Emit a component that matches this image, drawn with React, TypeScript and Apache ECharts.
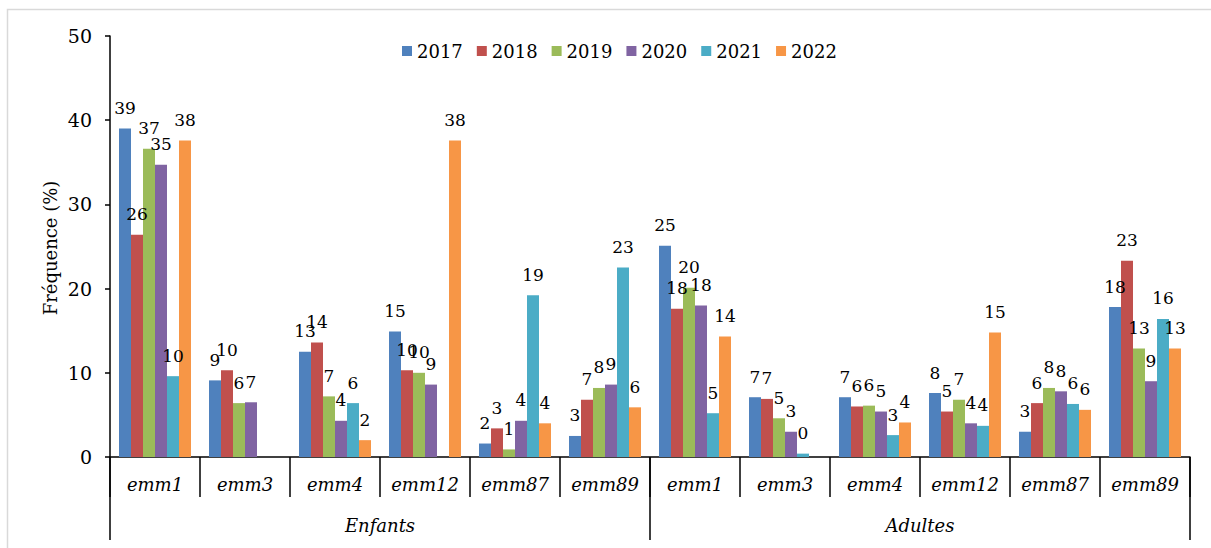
import React, { useEffect, useRef } from "react";
import * as echarts from "echarts";

const groups = ["Enfants", "Adultes"];
const genes = ["emm1", "emm3", "emm4", "emm12", "emm87", "emm89"];
const years = ["2017", "2018", "2019", "2020", "2021", "2022"];
const yTicks = { min: 0, max: 50, interval: 10 };

const y2017 = [39.0, 9.1, 12.5, 14.9, 1.6, 2.5, 25.1, 7.1, 7.1, 7.6, 3.0, 17.8];
const y2018 = [26.4, 10.3, 13.6, 10.3, 3.4, 6.8, 17.6, 6.9, 6.0, 5.4, 6.4, 23.3];
const y2019 = [36.6, 6.4, 7.2, 10.0, 0.9, 8.2, 20.1, 4.6, 6.1, 6.8, 8.2, 12.9];
const y2020 = [34.7, 6.5, 4.3, 8.6, 4.3, 8.6, 18.0, 3.0, 5.4, 4.0, 7.8, 9.0];
const y2021 = [9.6, null, 6.4, null, 19.2, 22.5, 5.2, 0.4, 2.6, 3.7, 6.3, 16.4];
const y2022 = [37.6, null, 2.0, 37.6, 4.0, 5.9, 14.3, null, 4.1, 14.8, 5.6, 12.9];

const seriesValues = [y2017, y2018, y2019, y2020, y2021, y2022];
const colors = ["#4F81BD", "#C0504D", "#9BBB59", "#8064A2", "#4BACC6", "#F79646"];

const FONT = "DejaVu Serif";

export default function App() {
  const ref = useRef<HTMLDivElement>(null);
  useEffect(() => {
    if (!ref.current) return;
    document.body.style.margin = "0";
    const chart = echarts.init(ref.current, null, { renderer: "svg" });
    const categories: string[] = [];
    groups.forEach((g) => genes.forEach((e) => categories.push(g + "|" + e)));

    const option: any = {
      animation: false,
      backgroundColor: "#ffffff",
      textStyle: { fontFamily: FONT, color: "#000" },
      legend: {
        left: 397,
        top: 37,
        itemWidth: 10,
        itemHeight: 10,
        itemGap: 14,
        icon: "rect",
        textStyle: { fontFamily: FONT, fontSize: 18, color: "#000" },
        data: years,
      },
      grid: { left: 110, right: 21, top: 36, bottom: 91, containLabel: false },
      xAxis: [
        {
          type: "category",
          data: categories,
          position: "bottom",
          axisLine: { show: true, lineStyle: { color: "#000", width: 1.5 } },
          axisTick: { show: true, length: 40, interval: 0, lineStyle: { color: "#000", width: 1.5 } },
          axisLabel: {
            interval: 0,
            margin: 18,
            fontFamily: FONT,
            fontStyle: "italic",
            fontSize: 18,
            color: "#000",
            formatter: (v: string) => v.split("|")[1],
          },
          splitLine: { show: false },
        },
        {
          type: "category",
          data: groups,
          position: "bottom",
          axisLine: { show: false },
          axisTick: { show: true, length: 83, interval: 0, lineStyle: { color: "#000", width: 1.5 } },
          axisLabel: {
            interval: 0,
            margin: 59,
            fontFamily: FONT,
            fontStyle: "italic",
            fontSize: 18,
            color: "#000",
          },
          splitLine: { show: false },
        },
      ],
      yAxis: {
        type: "value",
        min: yTicks.min,
        max: yTicks.max,
        interval: yTicks.interval,
        axisLine: { show: true, lineStyle: { color: "#000", width: 1.5 } },
        axisTick: { show: true, length: 5, lineStyle: { color: "#000", width: 1.5 } },
        axisLabel: { margin: 18, fontFamily: FONT, fontSize: 19, color: "#000" },
        splitLine: { show: false },
      },
      graphic: [
        {
          type: "rect",
          shape: { x: 7.5, y: 9.5, width: 1230, height: 560 },
          style: { fill: "none", stroke: "#d9d9d9", lineWidth: 1.5 },
          silent: true,
        },
        {
          type: "text",
          x: 50,
          y: 248,
          rotation: Math.PI / 2,
          style: {
            text: "Fréquence (%)",
            fontFamily: FONT,
            fontSize: 18,
            fill: "#000",
            align: "center",
            verticalAlign: "middle",
          },
        },
      ],
      series: years.map((y, i) => ({
        name: y,
        type: "bar",
        xAxisIndex: 0,
        yAxisIndex: 0,
        data: seriesValues[i],
        barGap: "0%",
        barCategoryGap: "20%",
        itemStyle: { color: colors[i] },
        label: {
          show: true,
          position: "top",
          distance: 12,
          fontFamily: FONT,
          fontSize: 17,
          color: "#000",
          formatter: (p: any) => (p.value == null ? "" : String(Math.round(p.value))),
        },
      })),
    };
    chart.setOption(option);
    return () => chart.dispose();
  }, []);
  return <div ref={ref} style={{ width: 1211, height: 548 }} />;
}
